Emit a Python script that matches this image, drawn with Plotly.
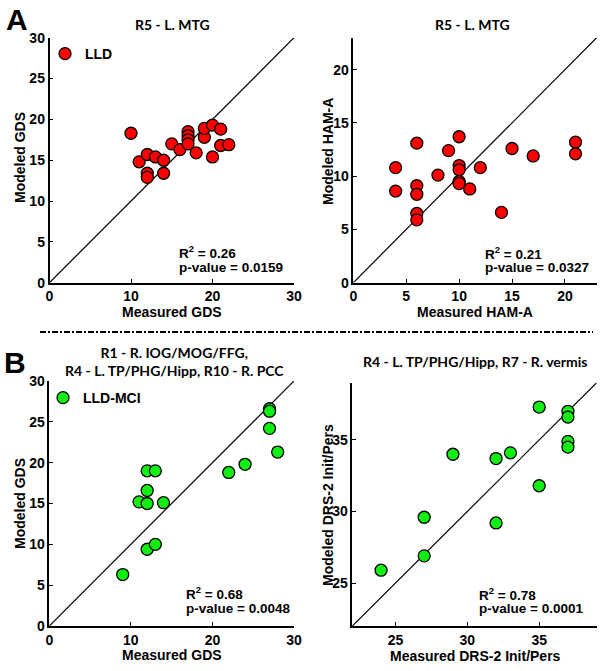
import plotly.graph_objects as go

W, H = 607, 671

# ---------------- data ----------------
lld_gds_measured = [10, 11, 12, 12, 12, 13, 14, 14, 15, 16, 17, 17, 17, 17, 18, 19, 19, 20, 20, 21, 21, 22]
lld_gds_modeled = [18.3, 14.8, 15.7, 13.4, 12.9, 15.4, 15.0, 13.4, 17.0, 16.3, 18.5, 18.0, 17.5, 17.0, 15.9, 17.8, 18.9, 19.3, 15.4, 18.8, 16.8, 16.9]

lld_hama_measured = [4, 4, 6, 6, 6, 6, 6, 8, 9, 10, 10, 10, 10, 10, 11, 12, 14, 15, 17, 21, 21]
lld_hama_modeled = [10.8, 8.6, 13.1, 9.1, 8.3, 6.5, 5.9, 10.1, 12.4, 13.7, 11.0, 10.6, 9.5, 9.3, 8.8, 10.8, 6.6, 12.6, 11.9, 13.2, 12.1]

mci_gds_measured = [9, 11, 12, 12, 12, 12, 13, 13, 14, 22, 24, 27, 27, 27, 28]
mci_gds_modeled = [6.3, 15.2, 19.0, 16.6, 15.0, 9.4, 19.0, 10.0, 15.1, 18.8, 19.8, 26.6, 26.3, 24.2, 21.3]

mci_drs_measured = [24, 27, 27, 29, 32, 32, 33, 35, 35, 37, 37, 37, 37]
mci_drs_modeled = [25.9, 26.9, 29.6, 34.0, 33.7, 29.2, 34.1, 37.3, 31.8, 37.0, 36.6, 34.9, 34.5]

range_a_left = [0, 30]
range_a_right = [0, 23]
range_b_left = [0, 30]
range_b_right = [22, 39]

ticks_a_left_x = [0, 10, 20, 30]
ticks_a_left_y = [0, 5, 10, 15, 20, 25, 30]
ticks_a_right = [0, 5, 10, 15, 20]
ticks_b_left_x = [0, 10, 20, 30]
ticks_b_left_y = [0, 5, 10, 15, 20, 25, 30]
ticks_b_right = [25, 30, 35]

titles = ["R5 - L. MTG", "R5 - L. MTG",
          "R1 - R. IOG/MOG/FFG,<br>R4 - L. TP/PHG/Hipp, R10 - R. PCC",
          "R4 - L. TP/PHG/Hipp, R7 - R. vermis"]
x_titles = ["Measured GDS", "Measured HAM-A", "Measured GDS", "Measured DRS-2 Init/Pers"]
y_titles = ["Modeled GDS", "Modeled HAM-A", "Modeled GDS", "Modeled DRS-2 Init/Pers"]
r2_texts = ["0.26", "0.21", "0.68", "0.78"]
p_texts = ["0.0159", "0.0327", "0.0048", "0.0001"]

RED = "#ff0000"
GREEN = "#11ee11"
ARIAL = "Liberation Sans, Arial, sans-serif"
CALIBRI = "Lato, sans-serif"

# ---------------- geometry (pixels) ----------------
def px_x(v):
    return v / W

def px_y(v):
    return 1 - v / H

panels = [
    dict(x0=49.5, x1=294.0, y0=37.7, y1=282.7),
    dict(x0=353.3, x1=596.7, y0=37.7, y1=282.7),
    dict(x0=49.3, x1=294.0, y0=381.0, y1=626.0),
    dict(x0=352.3, x1=596.7, y0=382.7, y1=626.0),
]

fig = go.Figure()

datasets = [
    (lld_gds_measured, lld_gds_modeled, RED, "LLD", "legend", range_a_left),
    (lld_hama_measured, lld_hama_modeled, RED, "LLD", None, range_a_right),
    (mci_gds_measured, mci_gds_modeled, GREEN, "LLD-MCI", "legend2", range_b_left),
    (mci_drs_measured, mci_drs_modeled, GREEN, "LLD-MCI", None, range_b_right),
]

for i, (xs, ys, col, name, leg, rng) in enumerate(datasets):
    ax = "" if i == 0 else str(i + 1)
    # identity line
    fig.add_trace(go.Scatter(x=rng, y=rng, mode="lines", line=dict(color="black", width=1.2),
                             showlegend=False, hoverinfo="skip",
                             xaxis="x" + ax, yaxis="y" + ax))
    fig.add_trace(go.Scatter(x=xs, y=ys, mode="markers", name=name,
                             marker=dict(size=12, color=col, line=dict(color="black", width=1.3)),
                             showlegend=leg is not None, legend=leg if leg else "legend",
                             xaxis="x" + ax, yaxis="y" + ax))

tickfont = dict(family=ARIAL, size=14, color="black", weight="bold")
common = dict(showline=True, linecolor="black", linewidth=1.5, ticks="inside", ticklen=4,
              tickcolor="black", tickwidth=1, showgrid=False, zeroline=False, mirror=False,
              tickfont=tickfont, automargin=False)

tick_sets = [
    (ticks_a_left_x, ticks_a_left_y, range_a_left),
    (ticks_a_right, ticks_a_right, range_a_right),
    (ticks_b_left_x, ticks_b_left_y, range_b_left),
    (ticks_b_right, ticks_b_right, range_b_right),
]

legfont = dict(family=ARIAL, size=14, color="black", weight="bold")
layout = dict(
    width=W, height=H, margin=dict(l=0, r=0, t=0, b=0, autoexpand=False),
    paper_bgcolor="white", plot_bgcolor="white",
    legend=dict(x=px_x(45), y=px_y(54), xanchor="left", yanchor="middle",
                bgcolor="rgba(0,0,0,0)", font=legfont),
    legend2=dict(x=px_x(43), y=px_y(398), xanchor="left", yanchor="middle",
                 bgcolor="rgba(0,0,0,0)", font=legfont),
)
for i, p in enumerate(panels):
    ax = "" if i == 0 else str(i + 1)
    tx, ty, rng = tick_sets[i]
    layout["xaxis" + ax] = dict(common, domain=[px_x(p["x0"]), px_x(p["x1"])], range=rng,
                                tickvals=tx, anchor="y" + ax)
    layout["yaxis" + ax] = dict(common, domain=[px_y(p["y1"]), px_y(p["y0"])], range=rng,
                                tickvals=ty, anchor="x" + ax)
fig.update_layout(**layout)

ann = []
titlefont = dict(family=CALIBRI, size=14, color="black", weight="bold")
axfont = dict(family=ARIAL, size=14, color="black", weight="bold")
statfont = dict(family=ARIAL, size=13.5, color="black", weight="bold")
title_pos = [(172, 25), (472, 25), (174, 361), (475, 361)]
xt_pos = [(172, 312), (475, 312), (172, 655), (475, 656)]
yt_pos = [(20, 158), (328, 152), (20, 504), (328, 505)]
r2_pos = [(177, 252), (483, 253), (184, 593), (477, 594)]
pv_pos = [(177, 267), (483, 267), (184, 608), (477, 608)]
for i in range(4):
    ann.append(dict(text=titles[i], x=px_x(title_pos[i][0]), y=px_y(title_pos[i][1]),
                    xref="paper", yref="paper", showarrow=False, font=titlefont,
                    xanchor="center", yanchor="middle", align="center"))
    ann.append(dict(text=x_titles[i], x=px_x(xt_pos[i][0]), y=px_y(xt_pos[i][1]),
                    xref="paper", yref="paper", showarrow=False, font=axfont,
                    xanchor="center", yanchor="middle"))
    ann.append(dict(text=y_titles[i], x=px_x(yt_pos[i][0]), y=px_y(yt_pos[i][1]),
                    xref="paper", yref="paper", showarrow=False, font=axfont, textangle=-90,
                    xanchor="center", yanchor="middle"))
    ann.append(dict(text="R<sup>2</sup> = " + r2_texts[i], x=px_x(r2_pos[i][0]), y=px_y(r2_pos[i][1]),
                    xref="paper", yref="paper", showarrow=False, font=statfont,
                    xanchor="left", yanchor="middle"))
    ann.append(dict(text="p-value = " + p_texts[i], x=px_x(pv_pos[i][0]), y=px_y(pv_pos[i][1]),
                    xref="paper", yref="paper", showarrow=False, font=statfont,
                    xanchor="left", yanchor="middle"))

letterfont = dict(family=ARIAL, size=30, color="black", weight="bold")
ann.append(dict(text="A", x=px_x(17), y=px_y(20), xref="paper", yref="paper", showarrow=False,
                font=letterfont, xanchor="center", yanchor="middle"))
ann.append(dict(text="B", x=px_x(15), y=px_y(362), xref="paper", yref="paper", showarrow=False,
                font=letterfont, xanchor="center", yanchor="middle"))
fig.update_layout(annotations=ann)

fig.add_shape(type="line", xref="paper", yref="paper", x0=px_x(40), x1=px_x(593),
              y0=px_y(332), y1=px_y(332), line=dict(color="black", width=2, dash="6px,2px,2px,2px"))

fig.write_html("out.html", config={"displayModeBar": False},
               post_script="document.body.style.margin='0';document.body.style.padding='0';")
